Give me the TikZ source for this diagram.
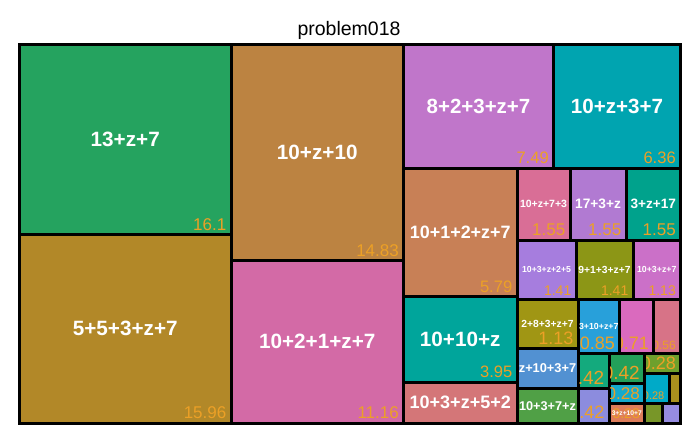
\documentclass[tikz,border=0pt]{standalone}
\usepackage{fontspec}
\setmainfont{Liberation Sans}
\definecolor{valc}{RGB}{236,160,38}
\definecolor{c1}{RGB}{37,163,95}
\definecolor{c2}{RGB}{178,136,40}
\definecolor{c3}{RGB}{188,131,65}
\definecolor{c4}{RGB}{211,106,166}
\definecolor{c5}{RGB}{192,118,202}
\definecolor{c6}{RGB}{0,164,176}
\definecolor{c7}{RGB}{200,128,86}
\definecolor{c8}{RGB}{0,165,155}
\definecolor{c9}{RGB}{212,118,120}
\definecolor{c10}{RGB}{217,110,150}
\definecolor{c11}{RGB}{177,122,210}
\definecolor{c12}{RGB}{0,162,140}
\definecolor{c13}{RGB}{166,125,222}
\definecolor{c14}{RGB}{140,150,22}
\definecolor{c15}{RGB}{203,112,200}
\definecolor{c16}{RGB}{160,150,20}
\definecolor{c17}{RGB}{82,145,210}
\definecolor{c18}{RGB}{80,160,70}
\definecolor{c19}{RGB}{40,160,218}
\definecolor{c20}{RGB}{218,106,190}
\definecolor{c21}{RGB}{215,115,135}
\definecolor{c22}{RGB}{20,170,125}
\definecolor{c23}{RGB}{140,140,222}
\definecolor{c24}{RGB}{35,160,90}
\definecolor{c25}{RGB}{20,170,205}
\definecolor{c26}{RGB}{222,125,90}
\definecolor{c27}{RGB}{110,160,45}
\definecolor{c28}{RGB}{0,170,200}
\definecolor{c29}{RGB}{170,145,30}
\definecolor{c30}{RGB}{120,150,40}
\definecolor{c31}{RGB}{150,140,225}
\tikzset{
  lbl/.style={text=white, inner sep=0pt, anchor=center},
  val/.style={text=valc, inner sep=0pt, anchor=south east},
}
% tile: name, x1, y1, x2, y2, colour
\newcommand\tmtile[6]{%
  \fill[#6] (#2+1.5,#3+1.5) rectangle (#4-1.5,#5-1.5);
  \coordinate (#1) at ({(#2+#4)/2},{(#3+#5)/2});}
% value: name, x1, y1, x2, y2, size, text
\newcommand\tmval[7]{%
  \begin{scope}
    \clip (#2+1.5,#3+1.5) rectangle (#4-1.5,#5-1.5);
    \node[val,font=\fontsize{#6}{#6}\selectfont] (#1v) at (#4-4.5,#5-4) {#7};
  \end{scope}}
% label: name, size, text
\newcommand\tmlbl[3]{%
  \node[lbl,font=\bfseries\fontsize{#2}{#2}\selectfont] (#1l) at (#1) {#3};}
\begin{document}
\begin{tikzpicture}[x=1pt,y=-1pt]
\useasboundingbox (0,0) rectangle (700,433);
\node[anchor=base,inner sep=0pt,font=\fontsize{19.5}{19.5}\selectfont] (title) at (349,36) {problem018};
\fill[black] (18,43) rectangle (682,424.5);
\tmtile{t1}{19.5}{44.5}{231}{234.5}{c1}
\tmtile{t2}{19.5}{234.5}{231}{423}{c2}
\tmtile{t3}{231}{44.5}{403.5}{260.5}{c3}
\tmtile{t4}{231}{260.5}{403.5}{423}{c4}
\tmtile{t5}{403.5}{44.5}{553.5}{168}{c5}
\tmtile{t6}{553.5}{44.5}{680.5}{168}{c6}
\tmtile{t7}{403.5}{168}{517}{296.5}{c7}
\tmtile{t8}{403.5}{296.5}{517}{382}{c8}
\tmtile{t9}{403.5}{382}{517}{423}{c9}
\tmtile{t10}{517}{168}{570}{240}{c10}
\tmtile{t11}{570}{168}{626}{240}{c11}
\tmtile{t12}{626}{168}{680.5}{240}{c12}
\tmtile{t13}{517}{240}{576}{299.5}{c13}
\tmtile{t14}{576}{240}{633}{299.5}{c14}
\tmtile{t15}{633}{240}{680.5}{299.5}{c15}
\tmtile{t16}{517}{299.5}{578}{348.5}{c16}
\tmtile{t17}{517}{348.5}{578}{388.5}{c17}
\tmtile{t18}{517}{388.5}{578}{423}{c18}
\tmtile{t19}{578}{299.5}{619.5}{353.5}{c19}
\tmtile{t20}{619.5}{299.5}{653.5}{353.5}{c20}
\tmtile{t21}{653.5}{299.5}{680.5}{353.5}{c21}
\tmtile{t22}{578}{353.5}{609}{388.5}{c22}
\tmtile{t23}{578}{388.5}{609}{423}{c23}
\tmtile{t24}{609}{353.5}{644.5}{383.5}{c24}
\tmtile{t25}{609}{383.5}{644.5}{403.5}{c25}
\tmtile{t26}{609}{403.5}{644.5}{423}{c26}
\tmtile{t27}{644.5}{353.5}{680.5}{373.5}{c27}
\tmtile{t28}{644.5}{373.5}{669}{403.5}{c28}
\tmtile{t29}{669}{373.5}{680.5}{403.5}{c29}
\tmtile{t30}{644.5}{403.5}{662.5}{423}{c30}
\tmtile{t31}{662.5}{403.5}{680.5}{423}{c31}
% values
\tmval{t1}{19.5}{44.5}{231}{234.5}{17}{16.1}
\tmval{t2}{19.5}{234.5}{231}{423}{17}{15.96}
\tmval{t3}{231}{44.5}{403.5}{260.5}{17}{14.83}
\tmval{t4}{231}{260.5}{403.5}{423}{17}{11.16}
\tmval{t5}{403.5}{44.5}{553.5}{168}{16.6}{7.49}
\tmval{t6}{553.5}{44.5}{680.5}{168}{16.6}{6.36}
\tmval{t7}{403.5}{168}{517}{296.5}{16.6}{5.79}
\tmval{t8}{403.5}{296.5}{517}{382}{16.5}{3.95}
\tmval{t10}{517}{168}{570}{240}{17}{1.55}
\tmval{t11}{570}{168}{626}{240}{17}{1.55}
\tmval{t12}{626}{168}{680.5}{240}{17}{1.55}
\tmval{t13}{517}{240}{576}{299.5}{14}{1.41}
\tmval{t14}{576}{240}{633}{299.5}{14}{1.41}
\tmval{t15}{633}{240}{680.5}{299.5}{14}{1.13}
\tmval{t16}{517}{299.5}{578}{348.5}{18}{1.13}
\tmval{t19}{578}{299.5}{619.5}{353.5}{18}{0.85}
\tmval{t20}{619.5}{299.5}{653.5}{353.5}{18}{0.71}
\tmval{t21}{653.5}{299.5}{680.5}{353.5}{12}{0.56}
\tmval{t22}{578}{353.5}{609}{388.5}{19}{0.42}
\tmval{t23}{578}{388.5}{609}{423}{18}{0.42}
\tmval{t24}{609}{353.5}{644.5}{383.5}{19}{0.42}
\tmval{t25}{609}{383.5}{644.5}{403.5}{17}{0.28}
\tmval{t26}{609}{403.5}{644.5}{423}{14}{0.28}
\tmval{t27}{644.5}{353.5}{680.5}{373.5}{18}{0.28}
\tmval{t28}{644.5}{373.5}{669}{403.5}{11}{0.28}
% labels
\tmlbl{t1}{20.7}{13+z+7}
\tmlbl{t2}{20.7}{5+5+3+z+7}
\tmlbl{t3}{20.7}{10+z+10}
\tmlbl{t4}{20.7}{10+2+1+z+7}
\tmlbl{t5}{20.5}{8+2+3+z+7}
\tmlbl{t6}{20.6}{10+z+3+7}
\tmlbl{t7}{17.9}{10+1+2+z+7}
\tmlbl{t8}{20.7}{10+10+z}
\tmlbl{t9}{18}{10+3+z+5+2}
\tmlbl{t10}{10.5}{10+z+7+3}
\tmlbl{t11}{13.7}{17+3+z}
\tmlbl{t12}{13.6}{3+z+17}
\tmlbl{t13}{8.7}{10+3+z+2+5}
\tmlbl{t14}{10.3}{9+1+3+z+7}
\tmlbl{t15}{8.8}{10+3+z+7}
\tmlbl{t16}{10.3}{2+8+3+z+7}
\tmlbl{t17}{12.8}{z+10+3+7}
\tmlbl{t18}{12.7}{10+3+7+z}
\tmlbl{t19}{8.8}{3+10+z+7}
\tmlbl{t26}{6.7}{3+z+10+7}
\end{tikzpicture}
\end{document}
